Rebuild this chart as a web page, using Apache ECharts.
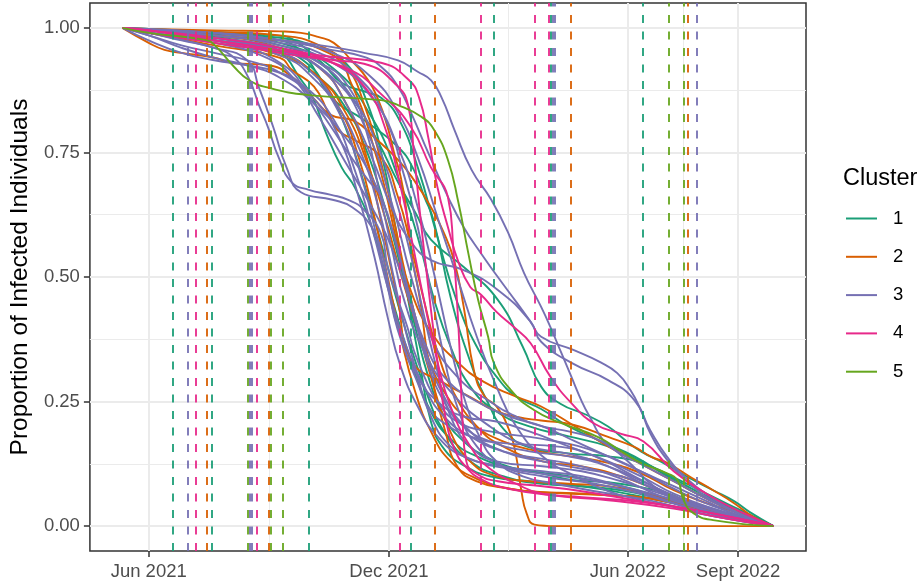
<!DOCTYPE html>
<html>
<head>
<meta charset="utf-8">
<script src="https://cdn.jsdelivr.net/npm/echarts@6/dist/echarts.min.js"></script>
<style>
  html, body { margin: 0; padding: 0; background: #ffffff; }
  #chart { width: 923px; height: 588px; }
</style>
</head>
<body>
<div id="chart"></div>
<script>
// Days are counted from 1 June 2021; values are the proportion still infected.
const xTickDays   = [0, 183, 365, 449];
const xTickLabels = ['Jun 2021', 'Dec 2021', 'Jun 2022', 'Sept 2022'];
const xMinorDays  = [91.5, 274, 407];
const yTicks      = [0, 0.25, 0.5, 0.75, 1];
const yMinor      = [0.125, 0.375, 0.625, 0.875];

const clusterNames  = ['1', '2', '3', '4', '5'];
const clusterColors = ['#1B9E77', '#D95F02', '#7570B3', '#E7298A', '#66A61E'];

// Cut-off dates (dashed verticals) per cluster, in days.
const cutoffs1 = [18.3, 47.9, 121.7, 199.5, 262.9, 306.5, 376.7];
const cutoffs2 = [44.1, 91.3, 217.7, 321.4, 410.4];
const cutoffs3 = [29.7, 76.8, 78.5, 308.0, 309.3, 417.7];
const cutoffs4 = [35.7, 82.7, 191.6, 252.7, 293.8, 304.7];
const cutoffs5 = [75.3, 93.0, 102.4, 396.0, 407.4];

// Cluster 1 trajectories
const cluster1 = [
  [[-20,1],[0,0.995],[50,0.985],[100,0.965],[130,0.93],[155,0.86],[175,0.77],[190,0.69],[203,0.63],[215,0.575],[240,0.52],[266,0.454],[285,0.36],[299,0.28],[314,0.245],[332,0.225],[350,0.2],[362,0.175],[375,0.15],[392,0.127],[413,0.095],[430,0.072],[446,0.05],[458,0.028],[476,0]],
  [[-20,1],[0,0.995],[50,0.982],[85,0.966],[101,0.95],[115,0.9],[125,0.86],[135,0.79],[147,0.72],[157,0.68],[170,0.6],[185,0.46],[200,0.33],[215,0.23],[230,0.175],[250,0.14],[280,0.115],[320,0.1],[360,0.08],[400,0.05],[440,0.025],[476,0]],
  [[-20,1],[0,0.996],[50,0.988],[100,0.975],[120,0.94],[139,0.861],[164,0.815],[190,0.761],[202,0.715],[210,0.661],[217,0.614],[230,0.46],[245,0.33],[258,0.25],[272,0.19],[290,0.158],[320,0.146],[350,0.14],[375,0.128],[400,0.098],[425,0.065],[450,0.033],[476,0]],
  [[-20,1],[0,0.995],[50,0.98],[100,0.95],[130,0.9],[150,0.84],[165,0.76],[180,0.64],[192,0.52],[203,0.4],[213,0.3],[225,0.22],[240,0.17],[260,0.135],[280,0.115],[299,0.106],[324,0.092],[350,0.088],[375,0.078],[395,0.066],[413,0.046],[438,0.026],[476,0]],
  [[-20,1],[0,0.99],[50,0.975],[100,0.955],[120,0.93],[135,0.88],[150,0.8],[165,0.68],[180,0.54],[195,0.4],[210,0.28],[225,0.19],[245,0.13],[270,0.1],[299,0.085],[330,0.08],[360,0.072],[390,0.055],[420,0.035],[450,0.015],[476,0]],
  [[-20,1],[0,0.998],[50,0.992],[100,0.984],[109,0.978],[132,0.93],[147,0.89],[167,0.87],[177,0.86],[190,0.82],[205,0.72],[220,0.58],[235,0.45],[250,0.36],[265,0.3],[280,0.26],[299,0.235],[320,0.2],[345,0.17],[370,0.14],[395,0.1],[420,0.062],[450,0.03],[476,0]],
  [[-20,1],[0,0.998],[50,0.99],[100,0.98],[130,0.96],[150,0.93],[165,0.86],[178,0.74],[188,0.6],[198,0.45],[207,0.32],[215,0.21],[225,0.155],[240,0.122],[260,0.1],[290,0.09],[330,0.08],[370,0.062],[400,0.046],[430,0.028],[455,0.012],[476,0]],
  [[-20,1],[0,0.995],[50,0.99],[100,0.97],[140,0.92],[170,0.82],[190,0.7],[205,0.58],[218,0.45],[230,0.36],[245,0.28],[265,0.23],[290,0.2],[320,0.18],[350,0.16],[375,0.13],[400,0.095],[425,0.06],[450,0.03],[476,0]]
];

// Cluster 2 trajectories
const cluster2 = [
  [[-20,1],[0,0.97],[12,0.956],[25,0.95],[50,0.94],[63,0.93],[91,0.925],[110,0.9],[125,0.86],[139,0.825],[157,0.813],[172,0.78],[190,0.735],[202,0.695],[215,0.64],[225,0.588],[233,0.53],[240,0.44],[248,0.31],[256,0.26],[265,0.24],[275,0.19],[280,0.14],[284,0.07],[288,0.025],[294,0.003],[310,0],[476,0]],
  [[-20,1],[0,0.995],[50,0.985],[100,0.96],[130,0.92],[150,0.85],[165,0.75],[178,0.6],[190,0.45],[200,0.333],[225,0.287],[245,0.259],[263,0.233],[281,0.219],[299,0.212],[324,0.203],[350,0.179],[370,0.159],[383,0.139],[395,0.127],[413,0.098],[430,0.072],[446,0.046],[461,0.018],[476,0]],
  [[-20,1],[0,0.99],[50,0.97],[100,0.945],[130,0.9],[150,0.83],[165,0.74],[180,0.62],[195,0.48],[210,0.36],[225,0.27],[245,0.21],[270,0.17],[299,0.149],[324,0.139],[350,0.127],[375,0.106],[400,0.072],[425,0.046],[450,0.026],[476,0]],
  [[-20,1],[0,0.998],[50,0.995],[100,0.993],[116,0.99],[129,0.982],[141,0.97],[154,0.936],[167,0.896],[175,0.855],[182,0.801],[187,0.749],[192,0.701],[196,0.64],[200,0.55],[207,0.45],[212,0.35],[218,0.27],[226,0.19],[235,0.12],[250,0.09],[275,0.075],[300,0.068],[350,0.062],[375,0.058],[400,0.046],[425,0.032],[450,0.012],[476,0]],
  [[-20,1],[0,0.995],[50,0.985],[100,0.975],[116,0.97],[132,0.956],[147,0.93],[154,0.89],[162,0.841],[167,0.801],[172,0.755],[177,0.709],[182,0.655],[190,0.56],[200,0.47],[215,0.39],[235,0.33],[255,0.29],[280,0.26],[299,0.24],[325,0.2],[350,0.16],[375,0.125],[400,0.09],[425,0.055],[450,0.025],[476,0]],
  [[-20,1],[0,0.99],[50,0.965],[100,0.94],[109,0.916],[126,0.882],[137,0.829],[144,0.795],[157,0.775],[177,0.74],[190,0.66],[200,0.56],[210,0.45],[220,0.35],[232,0.27],[250,0.2],[270,0.16],[300,0.13],[330,0.12],[360,0.1],[390,0.07],[420,0.04],[450,0.015],[476,0]],
  [[-20,1],[0,0.997],[50,0.992],[100,0.985],[130,0.965],[150,0.925],[165,0.84],[178,0.72],[188,0.6],[196,0.5],[205,0.4],[215,0.3],[228,0.2],[245,0.13],[265,0.1],[290,0.09],[320,0.085],[350,0.08],[380,0.065],[410,0.04],[440,0.02],[476,0]],
  [[-20,1],[0,0.99],[50,0.975],[100,0.95],[125,0.91],[145,0.84],[160,0.74],[172,0.62],[182,0.5],[192,0.38],[203,0.27],[215,0.19],[230,0.13],[250,0.095],[275,0.075],[299,0.068],[324,0.066],[350,0.062],[375,0.058],[400,0.046],[425,0.032],[450,0.012],[476,0]]
];

// Cluster 3 trajectories
const cluster3 = [
  [[-20,1],[0,0.998],[50,0.99],[100,0.976],[139,0.962],[164,0.95],[190,0.935],[205,0.912],[215,0.895],[223,0.861],[233,0.795],[246,0.715],[261,0.655],[274,0.588],[286,0.508],[299,0.44],[306,0.4],[314,0.35],[322,0.3],[330,0.25],[337,0.215],[347,0.17],[360,0.145],[375,0.125],[400,0.09],[425,0.055],[450,0.025],[476,0]],
  [[-20,1],[0,0.997],[50,0.99],[100,0.975],[139,0.956],[164,0.942],[177,0.922],[190,0.882],[200,0.829],[213,0.749],[228,0.661],[240,0.6],[253,0.548],[266,0.5],[280,0.45],[291,0.41],[299,0.38],[324,0.353],[344,0.329],[357,0.307],[367,0.273],[375,0.233],[382,0.187],[395,0.133],[410,0.09],[430,0.05],[450,0.025],[476,0]],
  [[-20,1],[0,0.99],[25,0.975],[50,0.96],[65,0.94],[76,0.9],[84,0.845],[91,0.8],[99,0.74],[109,0.69],[122,0.675],[139,0.665],[152,0.655],[164,0.635],[177,0.587],[182,0.52],[190,0.454],[197,0.4],[202,0.353],[210,0.3],[220,0.25],[235,0.21],[260,0.19],[300,0.175],[340,0.15],[375,0.11],[400,0.075],[430,0.04],[476,0]],
  [[-20,1],[0,0.99],[50,0.96],[75,0.935],[84,0.88],[95,0.8],[105,0.72],[116,0.67],[140,0.655],[155,0.64],[170,0.6],[177,0.554],[182.5,0.488],[187,0.42],[195,0.353],[205,0.287],[213,0.239],[225,0.207],[246,0.179],[268,0.167],[314,0.159],[340,0.14],[370,0.1],[400,0.06],[430,0.035],[476,0]],
  [[-20,1],[0,0.995],[50,0.975],[100,0.93],[126,0.849],[139,0.801],[152,0.749],[167,0.695],[177,0.661],[190,0.55],[200,0.45],[210,0.37],[225,0.3],[250,0.25],[275,0.22],[300,0.2],[325,0.17],[350,0.14],[375,0.11],[400,0.08],[425,0.05],[450,0.02],[476,0]],
  [[-20,1],[0,0.99],[50,0.975],[100,0.955],[130,0.92],[150,0.85],[170,0.74],[185,0.64],[200,0.57],[215,0.534],[240,0.514],[266,0.474],[291,0.41],[299,0.37],[324,0.325],[350,0.293],[370,0.253],[382,0.193],[395,0.139],[410,0.095],[430,0.055],[450,0.025],[476,0]],
  [[-20,1],[0,0.99],[50,0.975],[100,0.95],[120,0.92],[140,0.86],[160,0.76],[175,0.64],[185,0.52],[195,0.4],[205,0.3],[215,0.22],[230,0.16],[250,0.13],[275,0.115],[300,0.105],[330,0.095],[360,0.08],[390,0.06],[420,0.04],[450,0.018],[476,0]],
  [[-20,1],[0,0.995],[50,0.98],[100,0.96],[130,0.93],[155,0.86],[175,0.76],[190,0.64],[200,0.54],[210,0.42],[220,0.31],[230,0.22],[245,0.16],[265,0.13],[300,0.12],[330,0.11],[360,0.09],[390,0.065],[420,0.04],[450,0.018],[476,0]],
  [[-20,1],[0,0.99],[50,0.97],[90,0.94],[110,0.9],[130,0.82],[150,0.73],[170,0.64],[185,0.56],[200,0.44],[212,0.33],[225,0.25],[240,0.2],[260,0.17],[290,0.15],[320,0.14],[350,0.12],[380,0.085],[410,0.05],[440,0.025],[476,0]],
  [[-20,1],[0,0.995],[50,0.985],[100,0.97],[130,0.95],[160,0.9],[180,0.82],[195,0.7],[205,0.6],[215,0.47],[225,0.34],[235,0.24],[250,0.16],[270,0.12],[300,0.1],[340,0.085],[375,0.065],[400,0.045],[430,0.025],[476,0]],
  [[-20,1],[0,0.99],[50,0.975],[100,0.955],[140,0.9],[165,0.8],[185,0.65],[200,0.5],[215,0.38],[235,0.3],[260,0.25],[280,0.22],[300,0.2],[320,0.19],[345,0.17],[365,0.13],[385,0.08],[410,0.045],[440,0.02],[476,0]],
  [[-20,1],[0,0.985],[25,0.965],[50,0.95],[75,0.935],[100,0.91],[125,0.86],[145,0.78],[160,0.66],[172,0.54],[182,0.42],[192,0.32],[205,0.24],[220,0.18],[240,0.14],[270,0.12],[300,0.11],[330,0.1],[360,0.08],[390,0.055],[420,0.03],[450,0.012],[476,0]],
  [[-20,1],[0,0.975],[25,0.95],[50,0.935],[75,0.925],[100,0.91],[120,0.88],[140,0.82],[155,0.73],[170,0.6],[182,0.48],[195,0.37],[210,0.28],[225,0.22],[245,0.18],[270,0.15],[300,0.135],[330,0.12],[360,0.095],[390,0.06],[420,0.035],[450,0.014],[476,0]],
  [[-20,1],[0,0.995],[50,0.985],[100,0.965],[140,0.93],[170,0.86],[190,0.76],[205,0.64],[218,0.5],[230,0.36],[240,0.26],[252,0.18],[265,0.13],[285,0.1],[310,0.085],[340,0.07],[375,0.055],[400,0.04],[430,0.02],[476,0]],
  [[-20,1],[0,0.99],[50,0.98],[100,0.96],[130,0.93],[150,0.89],[165,0.8],[175,0.68],[185,0.56],[195,0.45],[210,0.35],[230,0.27],[260,0.2],[290,0.16],[320,0.145],[350,0.12],[380,0.08],[410,0.045],[440,0.02],[476,0]],
  [[-20,1],[0,0.99],[50,0.975],[100,0.945],[125,0.9],[145,0.83],[160,0.72],[172,0.6],[182,0.48],[192,0.38],[205,0.3],[220,0.25],[240,0.22],[265,0.21],[290,0.19],[320,0.16],[350,0.13],[375,0.1],[400,0.065],[430,0.035],[476,0]],
  [[-20,1],[0,0.995],[50,0.99],[100,0.975],[140,0.95],[170,0.9],[190,0.83],[205,0.74],[220,0.62],[235,0.5],[250,0.38],[265,0.28],[280,0.2],[300,0.14],[325,0.1],[350,0.07],[375,0.052],[400,0.038],[430,0.02],[476,0]],
  [[-20,1],[0,0.985],[25,0.96],[50,0.94],[75,0.925],[100,0.9],[125,0.85],[150,0.78],[170,0.7],[185,0.6],[198,0.47],[210,0.36],[225,0.26],[245,0.19],[270,0.15],[300,0.13],[330,0.115],[360,0.1],[390,0.07],[420,0.04],[450,0.016],[476,0]]
];

// Cluster 4 trajectories
const cluster4 = [
  [[-20,1],[0,0.995],[50,0.975],[100,0.955],[139,0.942],[177,0.93],[198,0.896],[206,0.86],[213,0.78],[220,0.68],[228,0.6],[236,0.53],[245,0.48],[253,0.465],[265,0.43],[278,0.4],[291,0.367],[306,0.3],[322,0.247],[340,0.205],[360,0.185],[377,0.17],[400,0.11],[425,0.065],[450,0.03],[476,0]],
  [[-20,1],[0,0.995],[50,0.975],[100,0.955],[139,0.936],[164,0.928],[190,0.882],[198,0.84],[202,0.75],[207,0.62],[213,0.48],[220,0.33],[226,0.22],[233,0.155],[242,0.118],[255,0.092],[276,0.074],[314,0.06],[350,0.052],[400,0.035],[440,0.015],[476,0]],
  [[-20,1],[0,0.99],[50,0.97],[100,0.95],[150,0.92],[180,0.86],[200,0.8],[215,0.72],[228,0.66],[232,0.56],[236,0.4],[239,0.22],[242,0.13],[250,0.105],[266,0.09],[300,0.08],[330,0.07],[375,0.05],[410,0.035],[450,0.015],[476,0]],
  [[-20,1],[0,0.995],[50,0.98],[100,0.96],[140,0.93],[165,0.88],[180,0.8],[192,0.68],[200,0.58],[210,0.45],[220,0.33],[230,0.24],[245,0.16],[260,0.115],[280,0.085],[300,0.065],[330,0.058],[370,0.05],[410,0.035],[450,0.015],[476,0]]
];

// Cluster 5 trajectories
const cluster5 = [
  [[-20,1],[0,0.99],[43,0.976],[50,0.966],[65,0.922],[76,0.896],[91,0.88],[122,0.865],[177,0.855],[190,0.845],[208,0.821],[217.5,0.795],[228,0.735],[236,0.649],[243.5,0.548],[251,0.454],[258.6,0.38],[263,0.327],[276,0.273],[293.5,0.233],[314,0.207],[342,0.179],[362,0.147],[375,0.127],[395,0.106],[403,0.092],[407.6,0.052],[415,0.026],[430,0.012],[476,0]]
];

const clusterCurves  = [cluster1, cluster2, cluster3, cluster4, cluster5];
const clusterCutoffs = [cutoffs1, cutoffs2, cutoffs3, cutoffs4, cutoffs5];

const FONT = "'Liberation Sans', Arial, Helvetica, sans-serif";
const xMin = -44.8, xMax = 500.8;

const series = [];
clusterCurves.forEach((curves, ci) => {
  curves.forEach(curve => {
    series.push({
      type: 'line',
      name: clusterNames[ci],
      data: curve,
      xAxisIndex: 0, yAxisIndex: 0,
      symbol: 'none',
      smooth: 0.5,
      silent: true,
      z: 2,
      itemStyle: { color: clusterColors[ci] },
      lineStyle: { color: clusterColors[ci], width: 1.9 }
    });
  });
});
clusterCutoffs.forEach((cuts, ci) => {
  series.push({
    type: 'line',
    name: clusterNames[ci],
    data: [],
    xAxisIndex: 0, yAxisIndex: 0,
    symbol: 'none',
    silent: true,
    z: 3,
    itemStyle: { color: clusterColors[ci] },
    lineStyle: { color: clusterColors[ci], width: 1.9 },
    markLine: {
      silent: true,
      symbol: ['none', 'none'],
      label: { show: false },
      emphasis: { disabled: true },
      animation: false,
      lineStyle: { color: clusterColors[ci], width: 1.8, type: [8, 8.5] },
      data: cuts.map(d => ({ xAxis: d }))
    }
  });
});

const chart = echarts.init(document.getElementById('chart'), null, { renderer: 'canvas' });
chart.setOption({
  animation: false,
  backgroundColor: '#ffffff',
  textStyle: { fontFamily: FONT },
  title: {
    text: 'Cluster',
    left: 843, top: 167, padding: 0,
    textStyle: { fontFamily: FONT, fontSize: 23.5, fontWeight: 'normal', color: '#000000' }
  },
  legend: {
    orient: 'vertical',
    left: 846, top: 208.5,
    padding: 0,
    icon: 'rect',
    itemWidth: 31, itemHeight: 2,
    itemGap: 18.3,
    selectedMode: false,
    data: clusterNames,
    textStyle: { fontFamily: FONT, fontSize: 18.5, color: '#000000', lineHeight: 20, padding: [0, 0, 0, 11] }
  },
  grid: {
    left: 88, right: 117, top: 3, bottom: 37,
    show: true, borderColor: '#333333', borderWidth: 1.5, backgroundColor: 'transparent'
  },
  xAxis: [
    {
      type: 'value', min: xMin, max: xMax,
      axisLine: { show: false, onZero: false },
      axisTick: { show: true, customValues: xTickDays, length: 6, lineStyle: { color: '#333333', width: 1.5 } },
      axisLabel: {
        customValues: xTickDays, margin: 11, color: '#4D4D4D', fontSize: 18.5, fontFamily: FONT,
        formatter: v => xTickLabels[xTickDays.indexOf(v)] || ''
      },
      splitLine: { show: true, lineStyle: { color: '#EBEBEB', width: 2 } }
    },
    {
      type: 'value', min: xMin, max: xMax, position: 'bottom',
      axisLine: { show: false, onZero: false },
      axisTick: { show: false, customValues: xMinorDays },
      axisLabel: { show: false, customValues: xMinorDays },
      splitLine: { show: true, lineStyle: { color: '#EBEBEB', width: 1 } }
    }
  ],
  yAxis: [
    {
      type: 'value', min: -0.05, max: 1.05,
      name: 'Proportion of Infected Individuals',
      nameLocation: 'middle', nameGap: 53, nameRotate: 90,
      nameTextStyle: { fontFamily: FONT, fontSize: 24.5, color: '#000000' },
      axisLine: { show: false, onZero: false },
      axisTick: { show: true, customValues: yTicks, length: 6, lineStyle: { color: '#333333', width: 1.5 } },
      axisLabel: {
        customValues: yTicks, margin: 10, color: '#4D4D4D', fontSize: 18.5, fontFamily: FONT,
        formatter: v => v.toFixed(2)
      },
      splitLine: { show: true, lineStyle: { color: '#EBEBEB', width: 2 } }
    },
    {
      type: 'value', min: -0.05, max: 1.05, position: 'left',
      axisLine: { show: false, onZero: false },
      axisTick: { show: false, customValues: yMinor },
      axisLabel: { show: false, customValues: yMinor },
      splitLine: { show: true, lineStyle: { color: '#EBEBEB', width: 1 } }
    }
  ],
  series: series
});
</script>
</body>
</html>
